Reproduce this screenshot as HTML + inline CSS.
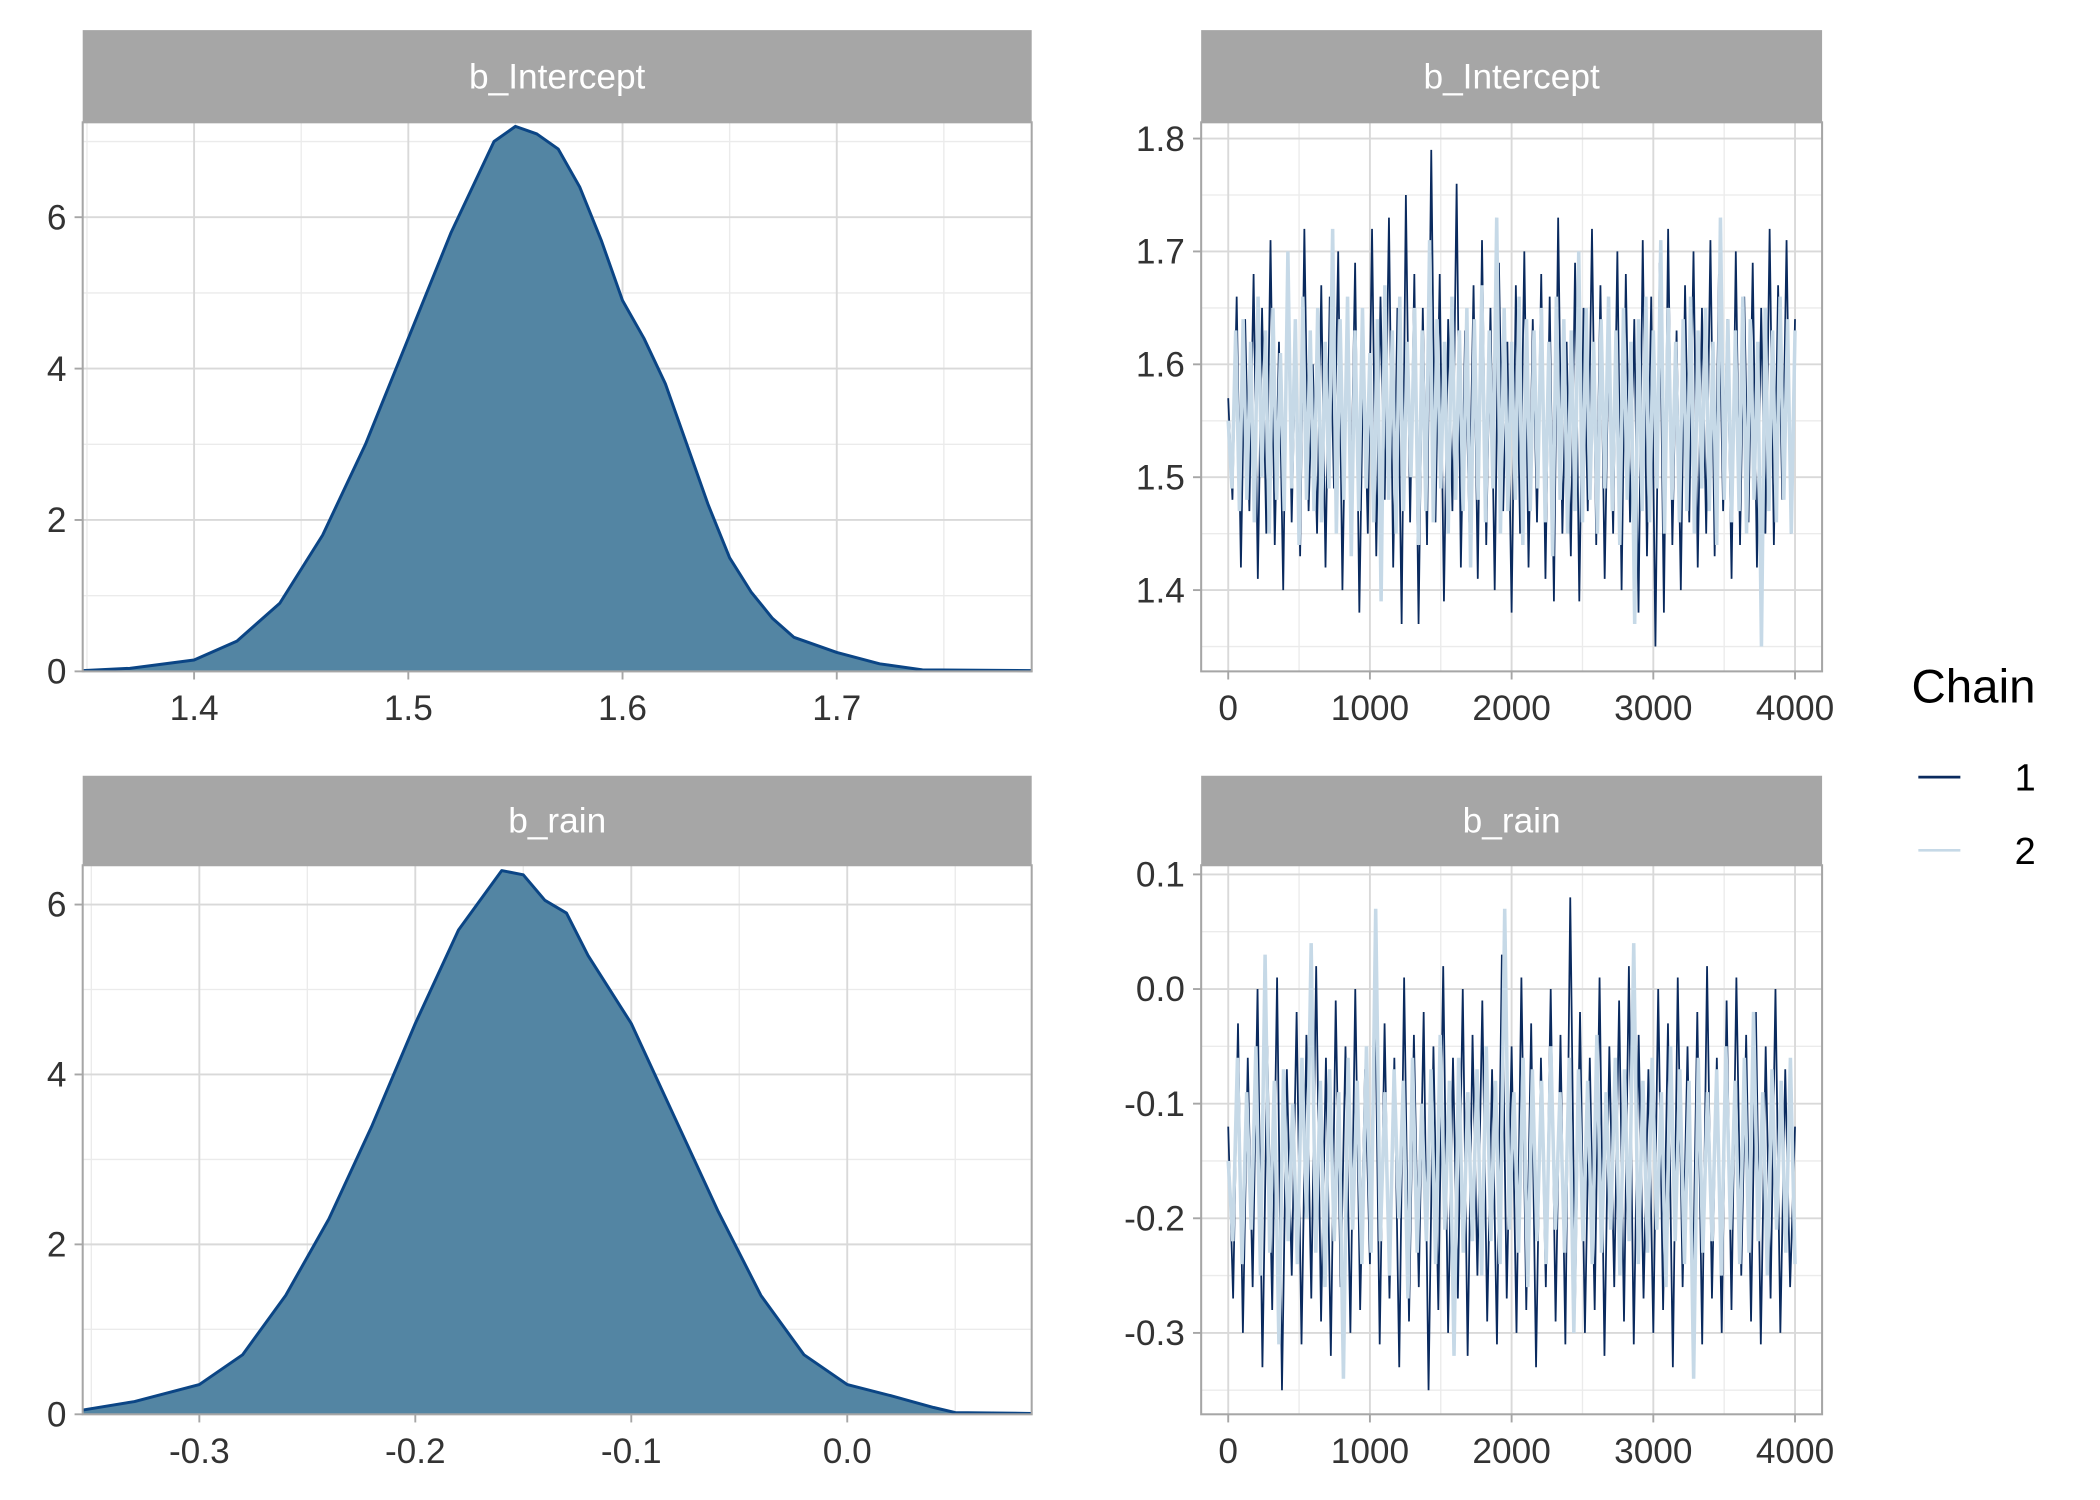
<!DOCTYPE html>
<html><head><meta charset="utf-8"><style>
html,body{margin:0;padding:0;background:#fff;}
svg{display:block;font-family:"Liberation Sans",sans-serif;}
</style></head><body>
<svg id="chart" xmlns="http://www.w3.org/2000/svg" width="2100" height="1500" viewBox="0 0 1549 1106"></svg>
<script>
const densIntX=[1.348,1.37,1.40,1.42,1.44,1.46,1.48,1.50,1.52,1.54,1.55,1.56,1.57,1.58,1.59,1.60,1.61,1.62,1.63,1.64,1.65,1.66,1.67,1.68,1.70,1.72,1.74,1.791];
const densIntY=[0.01,0.04,0.15,0.4,0.9,1.8,3.0,4.4,5.8,7.0,7.2,7.1,6.9,6.4,5.7,4.9,4.4,3.8,3.0,2.2,1.5,1.05,0.7,0.45,0.25,0.1,0.02,0.01];
const densRainX=[-0.354,-0.33,-0.30,-0.28,-0.26,-0.24,-0.22,-0.20,-0.18,-0.16,-0.15,-0.14,-0.13,-0.12,-0.10,-0.08,-0.06,-0.04,-0.02,0.0,0.02,0.04,0.05,0.0854];
const densRainY=[0.05,0.15,0.35,0.7,1.4,2.3,3.4,4.6,5.7,6.4,6.35,6.05,5.9,5.4,4.6,3.5,2.4,1.4,0.7,0.35,0.22,0.08,0.02,0.01];
const traceInt1=[1.57,1.48,1.66,1.42,1.64,1.47,1.68,1.41,1.65,1.45,1.71,1.44,1.62,1.40,1.69,1.46,1.63,1.43,1.72,1.47,1.60,1.45,1.67,1.42,1.66,1.49,1.70,1.40,1.64,1.47,1.69,1.38,1.62,1.45,1.72,1.43,1.66,1.48,1.73,1.42,1.65,1.37,1.75,1.46,1.68,1.37,1.65,1.44,1.79,1.46,1.68,1.39,1.64,1.47,1.76,1.42,1.63,1.46,1.67,1.41,1.71,1.44,1.65,1.40,1.69,1.47,1.62,1.38,1.67,1.45,1.70,1.42,1.64,1.46,1.68,1.41,1.66,1.39,1.73,1.45,1.62,1.43,1.69,1.39,1.65,1.47,1.72,1.44,1.67,1.41,1.63,1.45,1.70,1.40,1.68,1.46,1.64,1.38,1.71,1.43,1.66,1.35,1.69,1.38,1.72,1.44,1.63,1.40,1.67,1.46,1.70,1.42,1.65,1.45,1.71,1.43,1.68,1.47,1.64,1.41,1.70,1.44,1.66,1.46,1.69,1.42,1.65,1.45,1.72,1.44,1.67,1.48,1.71,1.45,1.64];
const traceInt2=[1.55,1.49,1.63,1.47,1.64,1.48,1.62,1.46,1.66,1.50,1.63,1.45,1.65,1.48,1.61,1.47,1.70,1.49,1.64,1.44,1.66,1.48,1.63,1.47,1.65,1.46,1.62,1.49,1.72,1.45,1.64,1.48,1.66,1.43,1.63,1.47,1.65,1.49,1.61,1.46,1.64,1.39,1.67,1.48,1.63,1.45,1.66,1.47,1.62,1.50,1.65,1.44,1.63,1.47,1.71,1.46,1.64,1.49,1.62,1.45,1.66,1.48,1.63,1.47,1.65,1.42,1.64,1.48,1.67,1.46,1.63,1.49,1.73,1.45,1.65,1.47,1.62,1.48,1.66,1.44,1.64,1.47,1.63,1.49,1.65,1.46,1.62,1.43,1.66,1.48,1.64,1.45,1.63,1.47,1.70,1.46,1.65,1.48,1.62,1.45,1.64,1.49,1.66,1.47,1.63,1.44,1.65,1.48,1.62,1.37,1.64,1.47,1.66,1.46,1.63,1.49,1.71,1.45,1.65,1.48,1.62,1.46,1.64,1.47,1.66,1.45,1.63,1.49,1.65,1.47,1.62,1.44,1.73,1.48,1.64,1.46,1.63,1.47,1.66,1.45,1.64,1.48,1.62,1.35,1.65,1.47,1.63,1.46,1.66,1.48,1.64,1.45,1.63];
const traceRain1=[-0.12,-0.27,-0.03,-0.30,-0.06,-0.26,0.00,-0.33,-0.05,-0.28,0.01,-0.35,-0.07,-0.25,-0.02,-0.31,-0.04,-0.27,0.02,-0.29,-0.06,-0.32,-0.01,-0.26,-0.05,-0.30,0.00,-0.28,-0.07,-0.24,0.02,-0.31,-0.03,-0.27,-0.06,-0.33,0.01,-0.29,-0.04,-0.26,-0.02,-0.35,-0.05,-0.28,0.02,-0.30,-0.06,-0.27,0.00,-0.32,-0.04,-0.25,-0.01,-0.29,-0.07,-0.31,0.03,-0.27,-0.05,-0.30,0.01,-0.28,-0.03,-0.33,-0.06,-0.26,0.00,-0.29,-0.04,-0.31,0.08,-0.27,-0.02,-0.30,-0.06,-0.28,0.01,-0.32,-0.05,-0.26,-0.01,-0.29,0.02,-0.31,-0.04,-0.27,-0.07,-0.30,0.00,-0.28,-0.03,-0.33,0.01,-0.26,-0.05,-0.29,-0.02,-0.31,0.02,-0.27,-0.06,-0.30,-0.01,-0.28,0.01,-0.25,-0.04,-0.29,-0.02,-0.31,-0.05,-0.27,0.00,-0.30,-0.07,-0.26,-0.12];
const traceRain2=[-0.15,-0.22,-0.06,-0.24,-0.09,-0.21,-0.05,-0.25,0.03,-0.23,-0.08,-0.31,-0.07,-0.22,-0.10,-0.24,-0.06,-0.20,0.04,-0.23,-0.08,-0.26,-0.07,-0.22,-0.09,-0.34,-0.06,-0.21,-0.08,-0.24,-0.05,-0.23,0.07,-0.22,-0.09,-0.25,-0.07,-0.20,-0.08,-0.27,-0.06,-0.23,-0.10,-0.22,-0.07,-0.24,-0.04,-0.21,-0.08,-0.32,-0.06,-0.23,-0.09,-0.22,-0.07,-0.25,-0.05,-0.22,-0.08,-0.24,0.07,-0.21,-0.09,-0.23,-0.06,-0.26,-0.07,-0.22,-0.08,-0.24,-0.05,-0.21,-0.09,-0.23,-0.06,-0.30,-0.07,-0.22,-0.08,-0.24,-0.04,-0.23,-0.09,-0.21,-0.06,-0.25,-0.07,-0.22,0.04,-0.24,-0.08,-0.23,-0.06,-0.21,-0.09,-0.26,-0.05,-0.22,-0.07,-0.24,-0.08,-0.34,-0.06,-0.23,-0.09,-0.22,-0.07,-0.25,-0.05,-0.21,-0.08,-0.24,-0.06,-0.23,-0.02,-0.22,-0.09,-0.25,-0.07,-0.21,-0.08,-0.23,-0.06,-0.24];
const ticksIntX=[1.4,1.5,1.6,1.7];
const ticksIntLabels=["1.4","1.5","1.6","1.7"];
const ticksRainX=[-0.3,-0.2,-0.1,0.0];
const ticksRainLabels=["-0.3","-0.2","-0.1","0.0"];
const ticksIntTraceY=[1.8,1.7,1.6,1.5,1.4];
const ticksRainTraceY=[0.1,0.0,-0.1,-0.2,-0.3];
const ticksIter=[0,1000,2000,3000,4000];
const ticksDens=[0,2,4,6];

const NS="http://www.w3.org/2000/svg";
const svg=document.getElementById('chart');
function mk(tag,attrs,parent){const e=document.createElementNS(NS,tag);for(const k in attrs)e.setAttribute(k,attrs[k]);(parent||svg).appendChild(e);return e;}
function lin(d0,d1,r0,r1){return v=>r0+(v-d0)/(d1-d0)*(r1-r0);}

function panel(o){
  const g=mk('g',{});
  
  
  const sx=lin(o.xd[0],o.xd[1],o.x0,o.x1), sy=lin(o.yd[0],o.yd[1],o.y1,o.y0);
  // strip
  const st=mk('rect',{x:o.x0,y:o.sy0,width:o.x1-o.x0,height:o.y0-o.sy0,fill:'#a6a6a6'},g);
  
  
  const stt=mk('text',{x:(o.x0+o.x1)/2,y:(o.sy0+o.y0)/2+9,'text-anchor':'middle','font-size':26,fill:'#fff'},g);
  stt.textContent=o.title;
  
  
  // grid
  const xt=o.xticks, yt=o.yticks;
  const minor=(arr)=>{const m=[];for(let i=0;i<arr.length-1;i++)m.push((arr[i]+arr[i+1])/2);const st=arr[1]-arr[0];m.push(arr[0]-st/2,arr[arr.length-1]+st/2);return m;};
  minor(xt).forEach(v=>{const p=sx(v);if(p>o.x0&&p<o.x1)mk('line',{x1:p,x2:p,y1:o.y0,y2:o.y1,stroke:'#ebebeb','stroke-width':1},g);});
  minor(yt).forEach(v=>{const p=sy(v);if(p>o.y0&&p<o.y1)mk('line',{x1:o.x0,x2:o.x1,y1:p,y2:p,stroke:'#ebebeb','stroke-width':1},g);});
  xt.forEach(v=>{const p=sx(v);mk('line',{x1:p,x2:p,y1:o.y0,y2:o.y1,stroke:'#d9d9d9','stroke-width':1.4},g);});
  yt.forEach(v=>{const p=sy(v);mk('line',{x1:o.x0,x2:o.x1,y1:p,y2:p,stroke:'#d9d9d9','stroke-width':1.4},g);});
  o.draw(g,sx,sy);
  mk('rect',{x:o.x0,y:o.y0,width:o.x1-o.x0,height:o.y1-o.y0,fill:'none',stroke:'#a6a6a6','stroke-width':1.5},g);
  // ticks
  xt.forEach((v,i)=>{const p=sx(v);mk('line',{x1:p,x2:p,y1:o.y1,y2:o.y1+6,stroke:'#a6a6a6','stroke-width':1.4},g);
    const t=mk('text',{x:p,y:o.y1+36,'text-anchor':'middle','font-size':26,fill:'#333'},g);t.textContent=o.xlab[i];
    
    });
  yt.forEach((v,i)=>{const p=sy(v);mk('line',{x1:o.x0-6,x2:o.x0,y1:p,y2:p,stroke:'#a6a6a6','stroke-width':1.4},g);
    const t=mk('text',{x:o.x0-12,y:p+9,'text-anchor':'end','font-size':26,fill:'#333'},g);t.textContent=o.ylab[i];
    
    });
}
function densDraw(X,Y,xd){return (g,sx,sy)=>{
  let d='M'+sx(X[0])+','+sy(0);X.forEach((x,i)=>{d+=' L'+sx(x)+','+sy(Y[i]);});d+=' L'+sx(X[X.length-1])+','+sy(0)+' Z';
  const a=mk('path',{d:d,fill:'#5385a3',stroke:'none'},g);
  
  
  let l='';X.forEach((x,i)=>{l+=(i?' L':'M')+sx(x)+','+sy(Y[i]);});
  const ln=mk('path',{d:l,fill:'none',stroke:'#0b4585','stroke-width':2.2,'stroke-linejoin':'round'},g);
  
  
};}
function traceDraw(c1,c2){return (g,sx,sy)=>{
  [[c1,'#0a2a5e',1.3,'chain-1-trace'],[c2,'#c6d9e7',2.6,'chain-2-trace']].forEach(([arr,col,w,nm])=>{
    let d='';arr.forEach((v,i)=>{d+=(i?' L':'M')+sx(i*4000/(arr.length-1)).toFixed(2)+','+sy(v).toFixed(2);});
    const p=mk('path',{d:d,fill:'none',stroke:col,'stroke-width':w,'stroke-linejoin':'miter'},g);
    
    
  });
};}
panel({name:'density-b-intercept',title:'b_Intercept',x0:61,x1:761,sy0:22,y0:90,y1:495,xd:[1.348,1.791],yd:[0,(495-90)/((495-160)/6)],
  xticks:ticksIntX,xlab:ticksIntLabels,yticks:ticksDens,ylab:ticksDens.map(String),draw:densDraw(densIntX,densIntY)});
panel({name:'density-b-rain',title:'b_rain',x0:61,x1:761,sy0:572,y0:638,y1:1043,xd:[-0.354,0.0854],yd:[0,(1043-638)/((1043-667)/6)],
  xticks:ticksRainX,xlab:ticksRainLabels,yticks:ticksDens,ylab:ticksDens.map(String),draw:densDraw(densRainX,densRainY)});
panel({name:'trace-b-intercept',title:'b_Intercept',x0:886,x1:1344,sy0:22,y0:90,y1:495,xd:[-191,4191],yd:[1.328,1.8144],
  xticks:ticksIter,xlab:ticksIter.map(String),yticks:ticksIntTraceY,ylab:ticksIntTraceY.map(v=>v.toFixed(1)),draw:traceDraw(traceInt1,traceInt2)});
panel({name:'trace-b-rain',title:'b_rain',x0:886,x1:1344,sy0:572,y0:638,y1:1043,xd:[-191,4191],yd:[-0.371,0.108],
  xticks:ticksIter,xlab:ticksIter.map(String),yticks:ticksRainTraceY,ylab:ticksRainTraceY.map(v=>v.toFixed(1)),draw:traceDraw(traceRain1,traceRain2)});
// legend
const lg=mk('g',{});


const lt=mk('text',{x:1410,y:518,'font-size':35,fill:'#000'},lg);lt.textContent='Chain';


[['1','#0a2a5e',573],['2','#c6d9e7',627]].forEach(([lab,col,y])=>{
  const e=mk('g',{},lg);
  
  
  mk('line',{x1:1415,x2:1446,y1:y,y2:y,stroke:col,'stroke-width':2},e);
  const t=mk('text',{x:1486,y:y+10,'font-size':28,fill:'#000'},e);t.textContent=lab;
});
</script>
</body></html>
